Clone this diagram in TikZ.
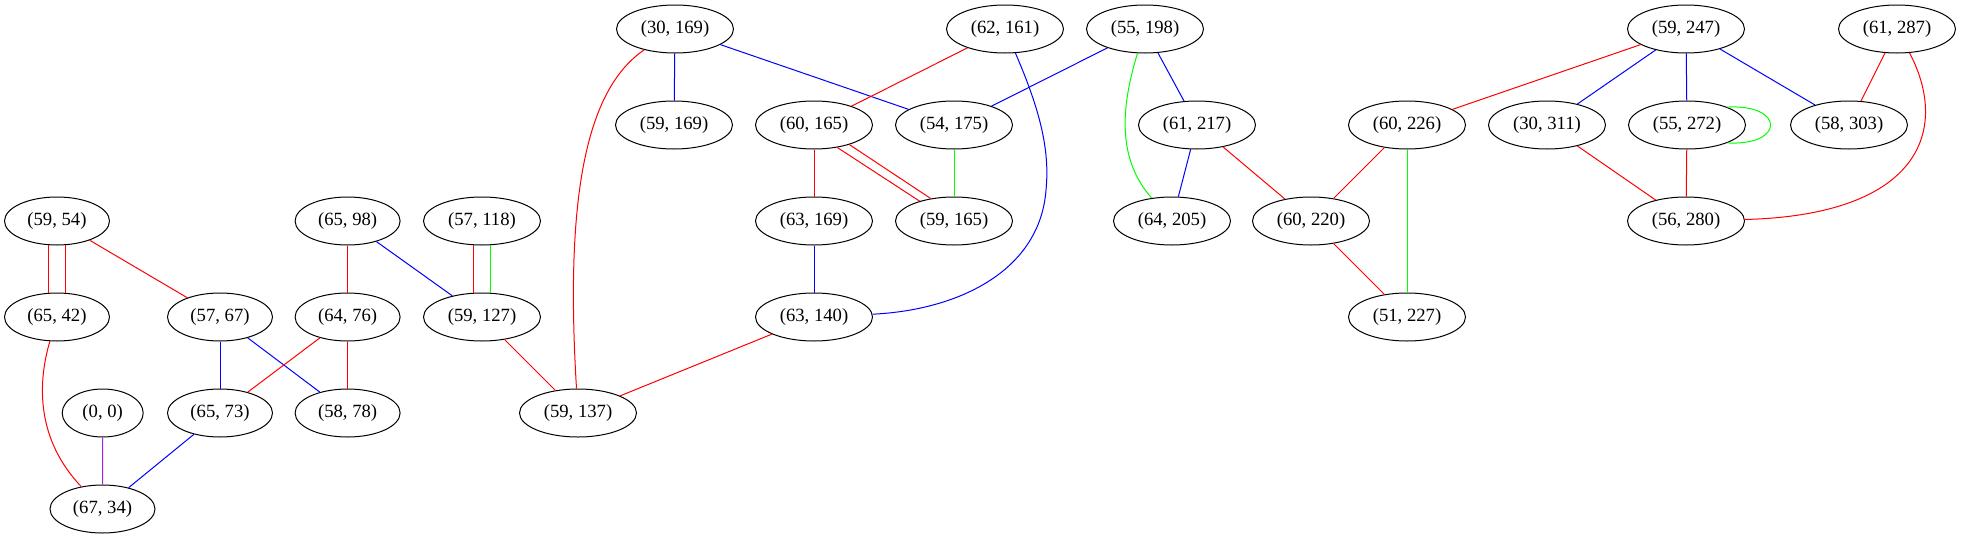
\documentclass[tikz,border=0pt]{standalone}
\usepackage{fontspec}
\setmainfont{Liberation Serif}
\usetikzlibrary{shapes.geometric}
\definecolor{gvred}{HTML}{FF0000}
\definecolor{gvblue}{HTML}{0000FF}
\definecolor{gvgreen}{HTML}{00FF00}
\definecolor{gvpurple}{HTML}{A020F0}
\begin{document}
\begin{tikzpicture}[x=0.75pt,y=-0.75pt,
  gv/.style={ellipse,draw=black,line width=0.75pt,inner sep=0pt,minimum height=36pt,font=\fontsize{14}{16}\selectfont},
  wtwo/.style={gv,minimum width=78.75pt},
  wthree/.style={gv,minimum width=87.75pt},
  wone/.style={gv,minimum width=60.75pt},
  edge/.style={line width=0.75pt},
  er/.style={edge,draw=gvred},
  eb/.style={edge,draw=gvblue},
  eg/.style={edge,draw=gvgreen},
  ep/.style={edge,draw=gvpurple}]
\path[fill=white] (0,0) rectangle (1963,539);
\useasboundingbox (0,0) rectangle (1963,539);
% rank 0
\node[wthree] (n30169) at (675,29) {(30, 169)};
\node[wthree] (n62161) at (1005,29) {(62, 161)};
\node[wthree] (n55198) at (1145,29) {(55, 198)};
\node[wthree] (n59247) at (1686,29) {(59, 247)};
\node[wthree] (n61287) at (1897,29) {(61, 287)};
% rank 1
\node[wthree] (n59169) at (674,125) {(59, 169)};
\node[wthree] (n60165) at (814,125) {(60, 165)};
\node[wthree] (n54175) at (954,125) {(54, 175)};
\node[wthree] (n61217) at (1197,125) {(61, 217)};
\node[wthree] (n60226) at (1407,125) {(60, 226)};
\node[wthree] (n30311) at (1547,125) {(30, 311)};
\node[wthree] (n55272) at (1687,125) {(55, 272)};
\node[wthree] (n58303) at (1849,125) {(58, 303)};
% rank 2
\node[wtwo] (n5954) at (57,221) {(59, 54)};
\node[wtwo] (n6598) at (347.6,221) {(65, 98)};
\node[wthree] (n57118) at (482,221) {(57, 118)};
\node[wthree] (n63169) at (814,221) {(63, 169)};
\node[wthree] (n59165) at (954,221) {(59, 165)};
\node[wthree] (n64205) at (1172,221) {(64, 205)};
\node[wthree] (n60220) at (1311,221) {(60, 220)};
\node[wthree] (n56280) at (1686,221) {(56, 280)};
% rank 3
\node[wtwo] (n6542) at (57,317) {(65, 42)};
\node[wtwo] (n5767) at (220,317) {(57, 67)};
\node[wtwo] (n6476) at (347.6,317) {(64, 76)};
\node[wthree] (n59127) at (482,317) {(59, 127)};
\node[wthree] (n63140) at (814,317) {(63, 140)};
\node[wthree] (n51227) at (1407,317) {(51, 227)};
% rank 4
\node[wone] (n00) at (102.7,413) {(0, 0)};
\node[wtwo] (n6573) at (220,413) {(65, 73)};
\node[wtwo] (n5878) at (347.6,413) {(58, 78)};
\node[wthree] (n59137) at (578,413) {(59, 137)};
% rank 5
\node[wtwo] (n6734) at (102.5,509) {(67, 34)};
% edges
\draw[eb] (n30169) -- (n59169);
\draw[eb] (n30169) -- (n54175);
\draw[er] (n30169) .. controls (585,90) and (565,200) .. (n59137);
\draw[er] (n62161) -- (n60165);
\draw[eb] (n62161) .. controls (1040,110) and (1050,150) .. (1046,190) .. controls (1040,270) and (960,310) .. (n63140);
\draw[eb] (n55198) -- (n54175);
\draw[eb] (n55198) -- (n61217);
\draw[eg] (n55198) .. controls (1120,110) and (1118,160) .. (n64205);
\draw[er] (n60165) -- (n63169);
\draw[er] (n60165.-44) -- (n59165.150);
\draw[er] (n60165.-29) -- (n59165.136);
\draw[eg] (n54175) -- (n59165);
\draw[eb] (n61217) -- (n64205);
\draw[er] (n61217) -- (n60220);
\draw[eb] (n63169) -- (n63140);
\draw[er] (n63140) -- (n59137);
\draw[er] (n59247) -- (n60226);
\draw[eb] (n59247) -- (n30311);
\draw[eb] (n59247) -- (n55272);
\draw[eb] (n59247) -- (n58303);
\draw[er] (n61287) -- (n58303);
\draw[er] (n61287) .. controls (1950,130) and (1920,215) .. (n56280);
\draw[eg] (n55272.24) .. controls (1785,104) and (1785,146) .. (n55272.-24);
\draw[er] (n55272) -- (n56280);
\draw[er] (n30311) -- (n56280);
\draw[er] (n60226) -- (n60220);
\draw[eg] (n60226) -- (n51227);
\draw[er] (n60220) -- (n51227);
\draw[er] (n5954.251) -- (n6542.109);
\draw[er] (n5954.289) -- (n6542.71);
\draw[er] (n5954) -- (n5767);
\draw[er] (n6542) .. controls (37,385) and (37,440) .. (n6734);
\draw[er] (n6598) -- (n6476);
\draw[eb] (n6598) -- (n59127);
\draw[er] (n57118.251) -- (n59127.109);
\draw[eg] (n57118.289) -- (n59127.71);
\draw[eb] (n5767) -- (n6573);
\draw[eb] (n5767) -- (n5878);
\draw[er] (n6476) -- (n6573);
\draw[er] (n6476) -- (n5878);
\draw[er] (n59127) -- (n59137);
\draw[ep] (n00) -- (n6734);
\draw[eb] (n6573) -- (n6734);
\end{tikzpicture}
\end{document}
